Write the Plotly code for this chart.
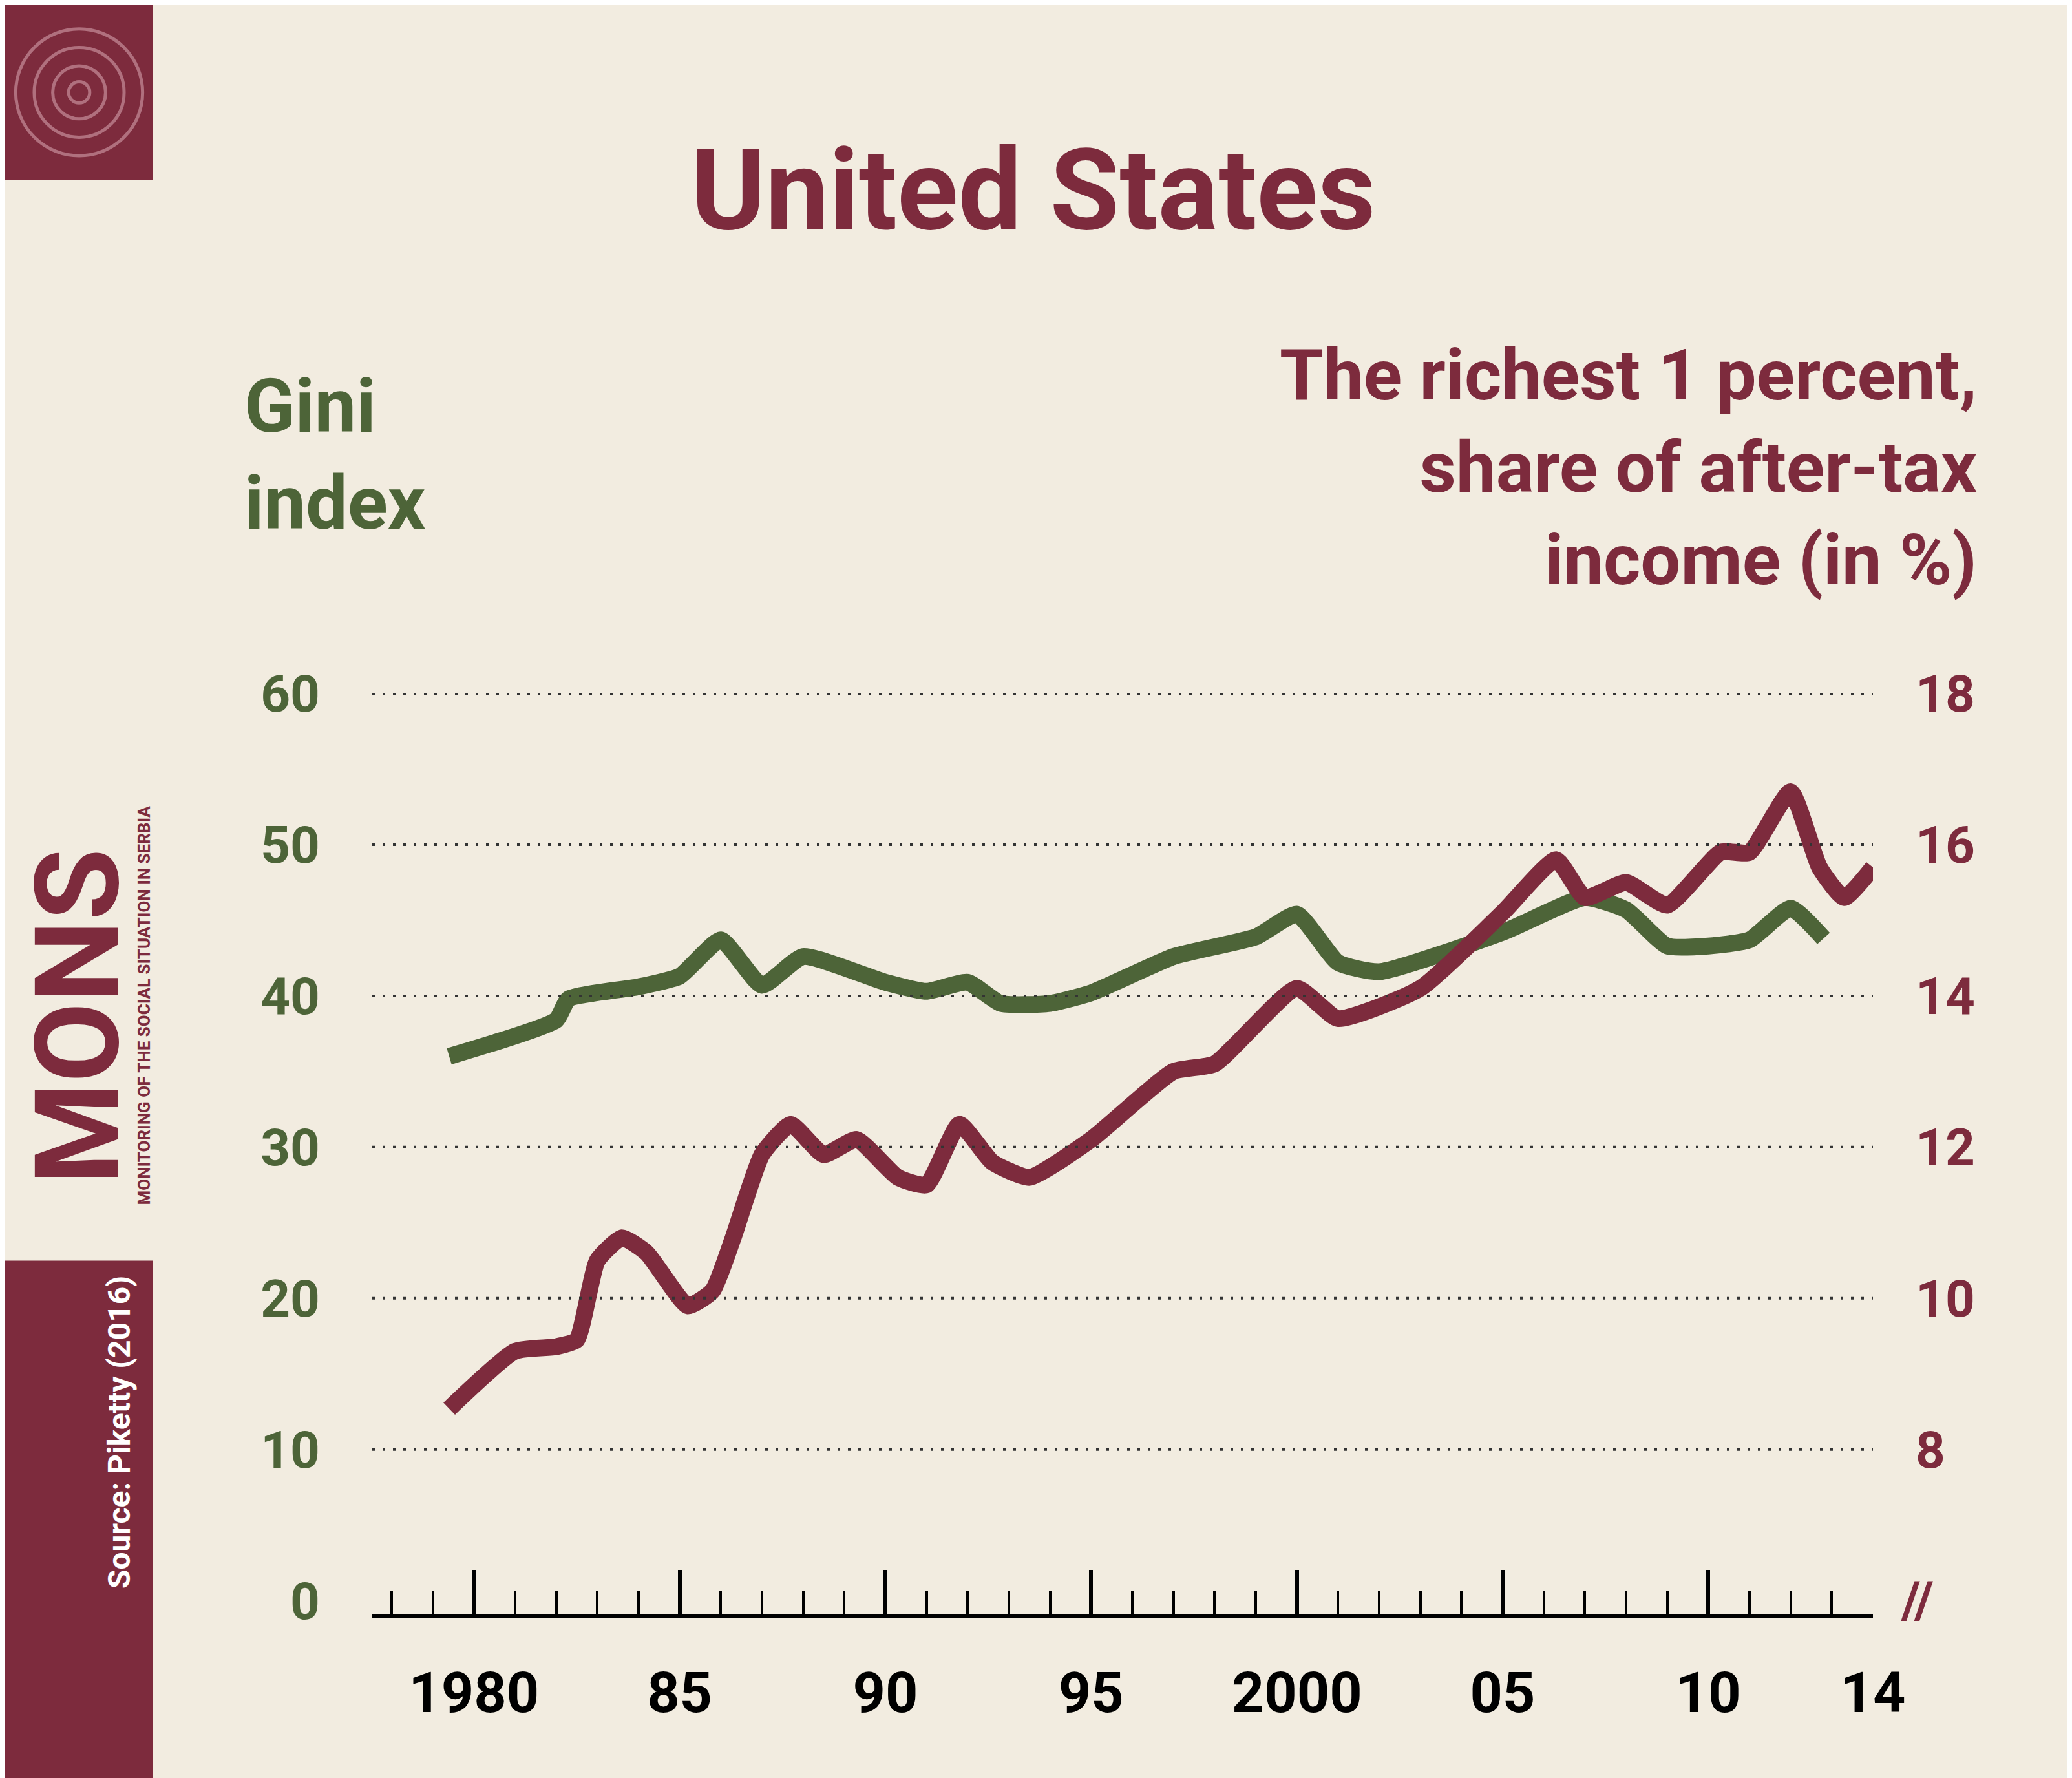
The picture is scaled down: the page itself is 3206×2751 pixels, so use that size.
import plotly.graph_objects as go

# data
gini_years = [1979.4, 1982, 1982.3, 1984, 1985, 1986, 1987, 1988, 1990, 1991, 1992, 1992.8,
              1994, 1995, 1997, 1999, 2000, 2001, 2002, 2005, 2007, 2008, 2009, 2010, 2011,
              2012, 2012.8]
gini_vals = [36.0, 38.4, 39.8, 40.6, 41.3, 43.7, 40.7, 42.6, 40.9, 40.3, 40.9, 39.5,
             39.5, 40.2, 42.6, 43.9, 45.4, 42.2, 41.6, 44.2, 46.5, 45.7, 43.3, 43.3, 43.7,
             45.8, 43.8]
top1_years = [1979.4, 1981, 1982, 1982.5, 1983, 1983.6, 1984.2, 1985.2, 1985.8, 1986.3, 1987,
              1987.7, 1988.5, 1989.3, 1990.3, 1991, 1991.8, 1992.6, 1993.5, 1995, 1997, 1998,
              2000, 2001, 2003, 2005, 2006.3, 2007, 2008, 2009, 2010.3, 2011, 2012, 2012.7,
              2013.3, 2014]
top1_vals = [8.54, 9.3, 9.36, 9.45, 10.5, 10.8, 10.6, 9.9, 10.1, 10.8, 11.9,
             12.3, 11.9, 12.1, 11.6, 11.5, 12.3, 11.8, 11.6, 12.1, 13.0, 13.1,
             14.1, 13.7, 14.1, 15.1, 15.8, 15.3, 15.5, 15.2, 15.9, 15.9, 16.7, 15.7,
             15.3, 15.7]
x_tickvals = [1980, 1985, 1990, 1995, 2000, 2005, 2010, 2014]
x_ticktext = ["1980", "85", "90", "95", "2000", "05", "10", "14"]
gini_ticks = [0, 10, 20, 30, 40, 50, 60]
top1_ticks = [8, 10, 12, 14, 16, 18]
grid_levels = [10, 20, 30, 40, 50, 60]

W, H = 3206, 2751
S = W / 1568
BG = "#f2ece0"
GREEN = "#4d6438"
RED = "#7d2b3d"
FONT = "Liberation Sans Narrow, Roboto, sans-serif"

L, R, T, B = 568, 316, 1065, 262
pw, ph = W - L - R, H - T - B


def px(x):  # display px -> paper x
    return (x * S - L) / pw


def py(y):  # display px -> paper y
    return 1 - (y * S - T) / ph


fig = go.Figure()
fig.add_trace(go.Scatter(x=gini_years, y=gini_vals, mode="lines",
                         line=dict(color=GREEN, width=26, shape="spline", smoothing=0.5),
                         hoverinfo="skip"))
fig.add_trace(go.Scatter(x=top1_years, y=top1_vals, mode="lines", yaxis="y2",
                         line=dict(color=RED, width=26, shape="spline", smoothing=0.5),
                         hoverinfo="skip"))

for g in grid_levels:
    fig.add_hline(y=g, line=dict(color="#333333", width=4, dash="4px,12px"))

lo = -0.87
fig.update_layout(
    width=W, height=H, paper_bgcolor=BG, plot_bgcolor=BG, showlegend=False,
    margin=dict(l=L, r=R, t=T, b=B),
    xaxis=dict(range=[1977.53, 2014], tickvals=x_tickvals, ticktext=x_ticktext,
               showgrid=False, zeroline=False, showline=True, linecolor="black", linewidth=6,
               ticks="inside", ticklen=68, tickwidth=6, tickcolor="black",
               minor=dict(dtick=1, tick0=1980, ticks="inside", ticklen=36, tickwidth=4,
                          tickcolor="black"),
               tickfont=dict(family=FONT, size=88, color="black", weight="bold"),
               ticklabelstandoff=40),
    yaxis=dict(range=[lo, 60], tickvals=gini_ticks, showgrid=False, zeroline=False,
               tickfont=dict(family=FONT, size=80, color=GREEN, weight="bold"),
               ticklabelstandoff=80),
    yaxis2=dict(range=[6 + lo / 5, 18], tickvals=top1_ticks, overlaying="y", side="right",
                showgrid=False, zeroline=False,
                tickfont=dict(family=FONT, size=80, color=RED, weight="bold"),
                ticklabelstandoff=65),
)

ann = [
    dict(text="United States", x=px(778), y=py(140), size=175, color=RED, xanchor="center"),
    dict(text="Gini<br>index", x=px(180), y=py(340), size=115, color=GREEN, xanchor="left"),
    dict(text="The richest 1 percent,<br>share of after-tax<br>income (in %)", x=px(1493),
         y=py(350), size=110, color=RED, xanchor="right", align="right"),
    dict(text="//", x=px(1447), y=py(1207), size=80, color=RED, xanchor="center"),
]
for a in ann:
    fig.add_annotation(text=a["text"], x=a["x"], y=a["y"], xref="paper", yref="paper",
                       xanchor=a["xanchor"], yanchor="middle", showarrow=False,
                       align=a.get("align", "left"),
                       font=dict(family=FONT, size=a["size"], color=a["color"], weight="bold"))

# left strip decoration
shapes = [
    dict(type="rect", x0=px(0), x1=px(112), y0=py(0), y1=py(132), fillcolor=RED, line_width=0),
    dict(type="rect", x0=px(0), x1=px(112), y0=py(950), y1=py(1345), fillcolor=RED, line_width=0),
]
for r in [48, 34, 20, 8]:
    shapes.append(dict(type="circle", x0=px(56 - r), x1=px(56 + r), y0=py(66 - r), y1=py(66 + r),
                       line=dict(color="#b0707e", width=5)))
for s in shapes:
    s.update(xref="paper", yref="paper", layer="below")
    fig.add_shape(**s)

vert = [
    dict(text="MONS", x=55, y=765, size=180, color=RED),
    dict(text="MONITORING OF THE SOCIAL SITUATION IN SERBIA", x=105, y=757, size=26, color=RED),
    dict(text="Source: Piketty (2016)", x=86, y=1080, size=48, color="white"),
]
for v in vert:
    fig.add_annotation(text=v["text"], x=px(v["x"]), y=py(v["y"]), xref="paper", yref="paper",
                       xanchor="center", yanchor="middle", textangle=-90, showarrow=False,
                       font=dict(family=FONT, size=v["size"], color=v["color"], weight="bold"))

fig.write_html("out.html")
